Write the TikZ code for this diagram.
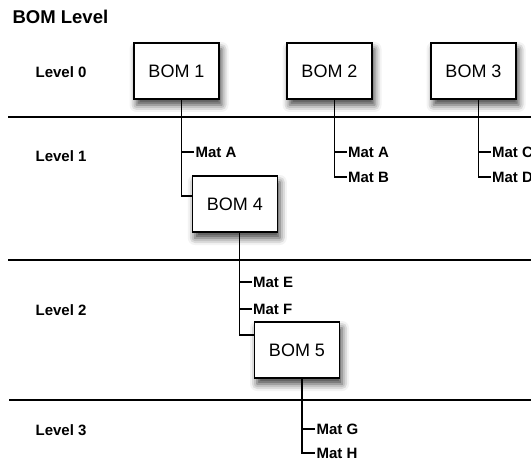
\documentclass[tikz,border=0pt]{standalone}
\usepackage{fontspec}
\setmainfont{Liberation Sans}
\usetikzlibrary{shadows.blur}

\begin{document}
\begin{tikzpicture}[x=1pt,y=-1pt,line width=1.2pt,
    bnode/.style={draw,rectangle,fill=white,minimum width=85pt,minimum height=56pt,inner sep=3pt,
      font=\fontsize{18}{20}\selectfont,
      blur shadow={shadow xshift=2.5pt,shadow yshift=-6pt,shadow blur radius=7pt,shadow opacity=75}},
    lnode/.style={anchor=west,inner sep=0pt,font=\fontsize{15}{17}\selectfont\bfseries},
    mnode/.style={anchor=west,inner xsep=1pt,inner ysep=0pt,font=\fontsize{15}{17}\selectfont\bfseries}]
    \useasboundingbox (0,0) rectangle (531,465);

    \node[anchor=west,inner sep=0pt,font=\fontsize{18.5}{20}\selectfont\bfseries] (title) at (12,17) {BOM Level};

    \node[lnode] (l0) at (35,72) {Level 0};
    \node[lnode] (l1) at (35,156) {Level 1};
    \node[lnode] (l2) at (35,310) {Level 2};
    \node[lnode] (l3) at (35,430) {Level 3};

    \draw (8,117) -- (531,117);
    \draw (8,260) -- (531,260);
    \draw (9,400) -- (531,400);

    \node[bnode] (b1) at (176.5,71) {BOM 1};
    \node[bnode] (b2) at (329.5,71) {BOM 2};
    \node[bnode] (b3) at (473.5,71) {BOM 3};
    \node[bnode] (b4) at (234.8,204) {BOM 4};
    \node[bnode] (b5) at (297,350) {BOM 5};

    \coordinate (t1) at ([xshift=5pt]b1.south);
    \coordinate (t2) at ([xshift=5pt]b2.south);
    \coordinate (t3) at ([xshift=5pt]b3.south);
    \coordinate (t4) at ([xshift=5pt]b4.south);
    \coordinate (t5) at ([xshift=5pt]b5.south);

    \node[mnode] (m1a) at (194,152) {Mat A};
    \node[mnode] (m2a) at (346.5,152) {Mat A};
    \node[mnode] (m2b) at (346.5,177) {Mat B};
    \node[mnode] (m3a) at (490.5,152) {Mat C};
    \node[mnode] (m3b) at (490.5,177) {Mat D};
    \node[mnode] (m4a) at (251.5,282) {Mat E};
    \node[mnode] (m4b) at (251.5,309) {Mat F};
    \node[mnode] (m5a) at (315,429) {Mat G};
    \node[mnode] (m5b) at (315,453) {Mat H};

    % trunks down from each BOM
    \draw (t1) |- ([yshift=8pt]b4.west);
    \draw (t1 |- m1a.west) -- (m1a.west);
    \draw (t2) |- (m2b.west);
    \draw (t2 |- m2a.west) -- (m2a.west);
    \draw (t3) |- (m3b.west);
    \draw (t3 |- m3a.west) -- (m3a.west);
    \draw (t4) |- ([yshift=15pt]b5.west);
    \draw (t4 |- m4a.west) -- (m4a.west);
    \draw (t4 |- m4b.west) -- (m4b.west);
    \draw (t5) |- (m5b.west);
    \draw (t5 |- m5a.west) -- (m5a.west);
\end{tikzpicture}
\end{document}
